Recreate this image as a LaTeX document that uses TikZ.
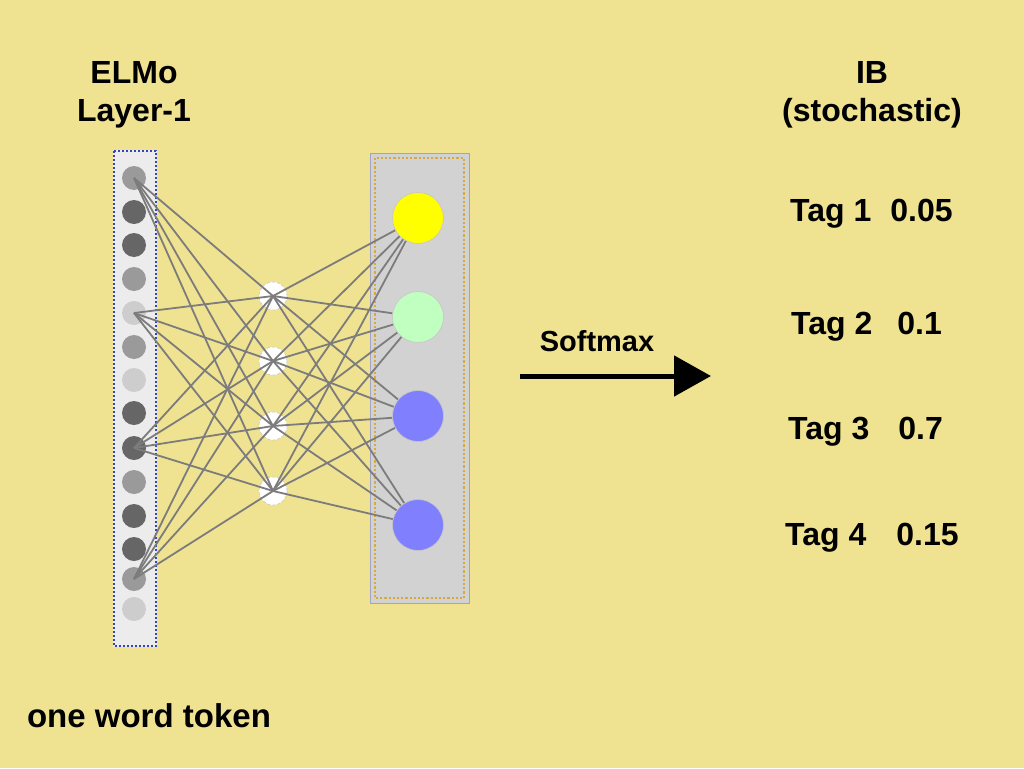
\documentclass[tikz,border=0pt]{standalone}
\usepackage{fontspec}
\setmainfont{Liberation Sans}
\usetikzlibrary{arrows.meta}

\definecolor{paper}{HTML}{EFE291}
\definecolor{inDark}{HTML}{666666}
\definecolor{inMid}{HTML}{9A9A9A}
\definecolor{inLight}{HTML}{CDCDCD}
\definecolor{linkgray}{HTML}{7C7C7C}
\definecolor{tagYellow}{HTML}{FFFF00}
\definecolor{tagGreen}{HTML}{C0FFC0}
\definecolor{tagBlue}{HTML}{8080FF}
\definecolor{dotBlue}{HTML}{3444C0}
\definecolor{dotOrange}{HTML}{D8AA3A}

\pgfdeclarelayer{panel}
\pgfdeclarelayer{lower}
\pgfdeclarelayer{edges}
\pgfsetlayers{panel,lower,edges,main}

\begin{document}
\begin{tikzpicture}[x=1pt,y=-1pt,
    inode/.style={circle,minimum size=24pt,inner sep=0pt},
    hnode/.style={circle,draw=gray!55,densely dashed,fill=white,minimum size=28pt,inner sep=0pt},
    onode/.style={circle,draw=gray!45,line width=0.6pt,minimum size=51pt,inner sep=0pt},
    link/.style={draw=linkgray,line width=1.8pt},
    lbl/.style={font=\fontsize{32}{38.4}\selectfont\bfseries,inner sep=0pt,align=center}]
    \useasboundingbox (0,0) rectangle (1024,768);

    % paper and panels behind the layers
    \begin{pgfonlayer}{panel}
        \fill[paper] (0,0) rectangle (1024,768);
        \fill[gray!15] (113,150) rectangle (157,647);
        \draw[dotBlue,dotted,line width=2pt] (114,151) rectangle (156,646);
        \fill[gray!35,draw=blue!20!gray!60] (370,153) rectangle (469,603);
        \draw[dotOrange,dotted,line width=2.2pt] (375,158) rectangle (464,598);
    \end{pgfonlayer}

    \begin{pgfonlayer}{lower}
        \foreach \n/\y/\s in {1/178/inMid,2/212/inDark,3/245/inDark,4/279/inMid,
                5/313/inLight,6/347/inMid,7/380/inLight,8/413/inDark,9/448/inDark,
                10/482/inMid,11/516/inDark,12/549/inDark,13/579/inMid,14/609/inLight}
            \node[inode,fill=\s] (in\n) at (134,\y) {};
        \node[hnode] (h1) at (273,296) {};
        \node[hnode] (h2) at (273,361) {};
        \node[hnode] (h3) at (273,426) {};
        \node[hnode] (h4) at (273,491) {};
    \end{pgfonlayer}

    \node[onode,fill=tagYellow] (out1) at (418,218) {};
    \node[onode,fill=tagGreen] (out2) at (418,317) {};
    \node[onode,fill=tagBlue] (out3) at (418,416) {};
    \node[onode,fill=tagBlue] (out4) at (418,525) {};

    \begin{pgfonlayer}{edges}
        \foreach \i in {1,5,9,13}
            \foreach \j in {1,...,4}
                \draw[link] (in\i.center) -- (h\j.center);
        \foreach \j in {1,...,4}
            \foreach \k in {1,...,4}
                \draw[link] (h\j.center) -- (out\k);
    \end{pgfonlayer}

    \node[lbl,anchor=north] (elmo) at (134,61) {ELMo\\Layer-1};
    \node[lbl,anchor=north] (ib) at (872,61) {IB\\(stochastic)};
    \node[lbl,anchor=base west] (tag1) at (790,221) {Tag 1\hspace{19pt}0.05};
    \node[lbl,anchor=base west] (tag2) at (791,334) {Tag 2\hspace{25pt}0.1};
    \node[lbl,anchor=base west] (tag3) at (788,439) {Tag 3\hspace{29pt}0.7};
    \node[lbl,anchor=base west] (tag4) at (785,545) {Tag 4\hspace{30pt}0.15};
    \node[lbl,anchor=base,font=\fontsize{29}{34}\selectfont\bfseries] (softmax) at (597,351) {Softmax};
    \node[lbl,anchor=base,font=\fontsize{33}{40}\selectfont\bfseries] (token) at (149,727) {one word token};

    \coordinate (sm-from) at (520,376);
    \coordinate (sm-to) at (711,376);
    \draw[line width=5pt,-{Triangle[length=37pt,width=40pt]}] (sm-from) -- (sm-to);
\end{tikzpicture}
\end{document}
